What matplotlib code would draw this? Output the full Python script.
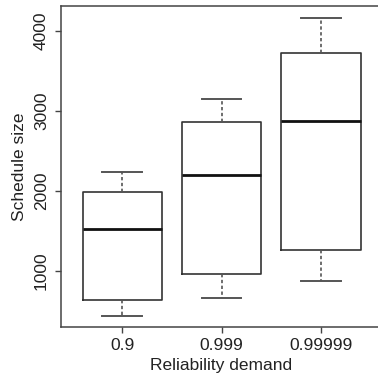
import matplotlib
matplotlib.use("Agg")
import matplotlib.pyplot as plt

# values
labels = ["0.9", "0.999", "0.99999"]
whislo = [437, 655, 875]
q1 = [634, 963, 1255]
med = [1521, 2200, 2875]
q3 = [1980, 2862, 3717]
whishi = [2230, 3146, 4162]

stats = []
for i in range(len(labels)):
    stats.append(dict(label=labels[i], whislo=whislo[i], q1=q1[i], med=med[i],
                      q3=q3[i], whishi=whishi[i], fliers=[]))

plt.rcParams['font.family'] = ['Liberation Sans', 'DejaVu Sans']

fig = plt.figure(figsize=(3.78, 3.77), dpi=100)
ax = fig.add_axes([0.1606, 0.1318, 0.851, 0.852])

ax.bxp(stats, positions=[1, 2, 3], widths=0.8, showfliers=False,
       boxprops=dict(color='#333333', linewidth=1.2),
       medianprops=dict(color='#111111', linewidth=2.0),
       whiskerprops=dict(color='#555555', linewidth=1.2, linestyle=(0, (2, 1.5))),
       capprops=dict(color='#555555', linewidth=1.4),
       capwidths=0.4)

ax.set_xlim(0.38, 3.62)
ax.set_ylim(292, 4309)
ax.set_yticks([1000, 2000, 3000, 4000])
ax.set_yticklabels(["1000", "2000", "3000", "4000"], rotation=90, va='center')
ax.set_xticks([1, 2, 3])
ax.set_xticklabels(labels)

for s in ax.spines.values():
    s.set_color('#444444')
    s.set_linewidth(1.1)
# the reference is cut off on the right, so no right border shows
ax.spines['right'].set_visible(False)
ax.tick_params(colors='#444444', labelcolor='#222222', labelsize=12.5, length=4.5, width=1.0)
ax.tick_params(axis='y', pad=4)
ax.tick_params(axis='x', pad=3)

ax.set_xlabel("Reliability demand", fontsize=12.5, color='#222222', labelpad=4)
ax.set_ylabel("Schedule size", fontsize=12.5, color='#222222', labelpad=5)

fig.savefig("out.png", dpi=100)
